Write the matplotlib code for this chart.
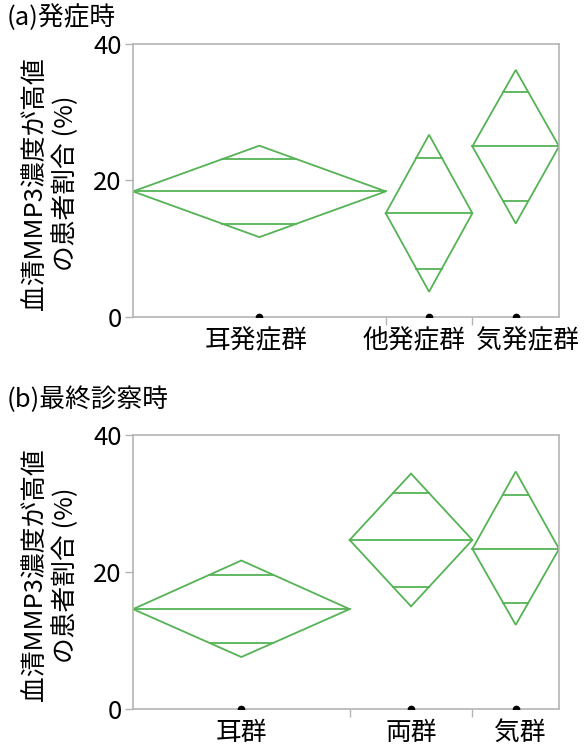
import matplotlib.pyplot as plt
import numpy as np
from matplotlib.transforms import ScaledTranslation

plt.rcParams['font.family'] = ['Noto Sans CJK JP', 'DejaVu Sans']

# (a) onset
groups_a = ['耳発症群', '他発症群', '気発症群']
n_a = [35, 12, 12]
mean_a = [18.4, 15.2, 25.0]
lo_a = [11.7, 3.7, 13.7]
hi_a = [25.1, 26.7, 36.2]

# (b) last visit
groups_b = ['耳群', '両群', '気群']
n_b = [30, 17, 12]
mean_b = [14.6, 24.7, 23.4]
lo_b = [7.6, 15.0, 12.3]
hi_b = [21.7, 34.4, 34.7]

yticks = [0, 20, 40]
green = '#55b355'
gray = '#b4b4b4'
fs = 18.5

fig = plt.figure(figsize=(5.86, 7.48), dpi=100)
ax_a = fig.add_axes([0.227, 0.5762, 0.727, 0.365])
ax_b = fig.add_axes([0.227, 0.0521, 0.727, 0.366])


def diamonds(ax, groups, n, mean, lo, hi, shifts):
    edges = np.concatenate([[0], np.cumsum(n)])
    for i in range(len(groups)):
        x0, x1 = edges[i], edges[i + 1]
        xc = (x0 + x1) / 2
        m = mean[i]
        ax.plot([x0, xc, x1, xc, x0], [m, hi[i], m, lo[i], m],
                color=green, lw=1.3, solid_joinstyle='miter')
        ax.plot([x0, x1], [m, m], color=green, lw=1.3)
        # overlap marks at mean +- half/sqrt(2), spanning the diamond
        half = (hi[i] - lo[i]) / 2
        d = half / np.sqrt(2)
        w = (x1 - x0) / 2 * (1 - 1 / np.sqrt(2))
        for y in (m + d, m - d):
            ax.plot([xc - w, xc + w], [y, y], color=green, lw=1.3)
        ax.plot([xc], [0], 'o', color='black', ms=4.5, clip_on=True, zorder=5)

    ax.set_xlim(0, edges[-1])
    ax.set_ylim(0, 40)
    ax.set_yticks(yticks)
    ax.set_yticklabels([str(t) for t in yticks], fontsize=fs)
    ax.set_xticks(edges[1:-1])
    ax.set_xticklabels([])
    centers = (edges[:-1] + edges[1:]) / 2
    ax.set_xticks(centers, minor=True)
    ax.set_xticklabels(groups, minor=True, fontsize=fs)
    ax.tick_params(axis='x', which='minor', length=0, pad=8)
    ax.tick_params(axis='x', which='major', length=6, color=gray, width=1)
    ax.tick_params(axis='y', length=6, color=gray, width=1, pad=2)
    for lab, dx in zip(ax.xaxis.get_minorticklabels(), shifts):
        lab.set_transform(lab.get_transform() +
                          ScaledTranslation(dx / 100, 0, fig.dpi_scale_trans))
    for s in ax.spines.values():
        s.set_color(gray)
        s.set_linewidth(1.2)
    ax.set_ylabel('血清MMP3濃度が高値\nの患者割合 (%)', fontsize=fs,
                  linespacing=1.12)
    ax.yaxis.set_label_coords(-0.13, 0.49)


diamonds(ax_a, groups_a, n_a, mean_a, lo_a, hi_a, [-3, -15, 12])
diamonds(ax_b, groups_b, n_b, mean_b, lo_b, hi_b, [0, 0, 4])

fig.text(0.012, 0.977, '(a)発症時', fontsize=fs, va='center', ha='left')
fig.text(0.012, 0.465, '(b)最終診察時', fontsize=fs, va='center', ha='left')

fig.savefig('out.png', dpi=100)
